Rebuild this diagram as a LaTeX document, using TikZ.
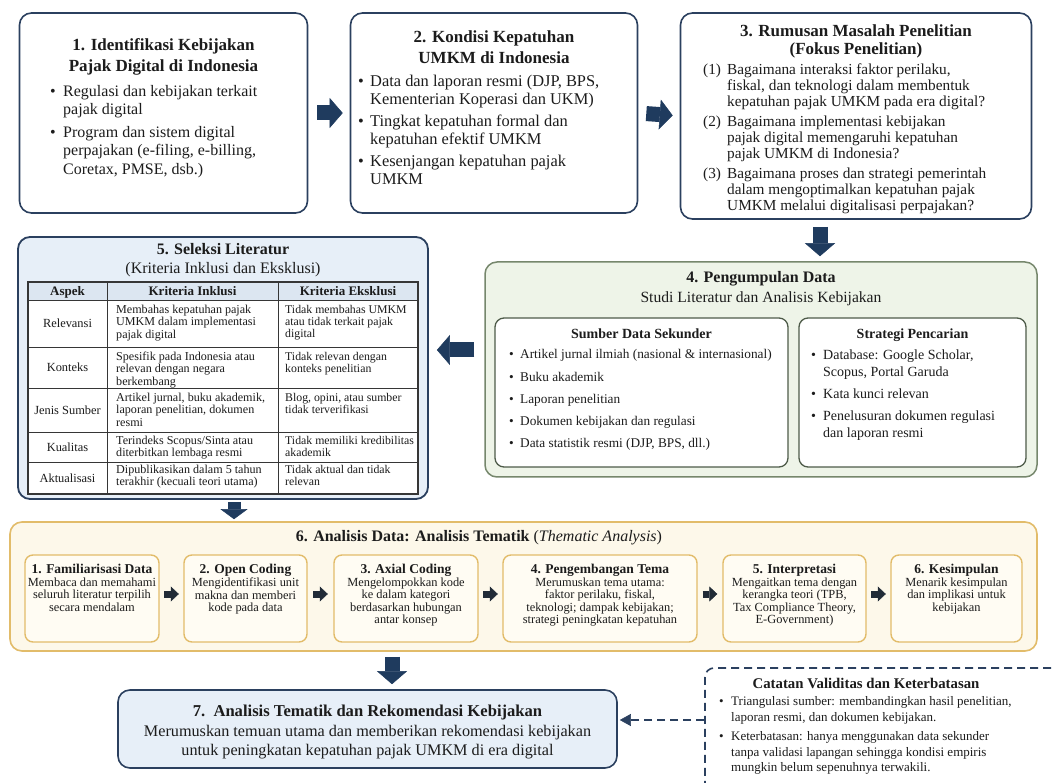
\documentclass[tikz,border=0pt]{standalone}
\usepackage{fontspec}
\setmainfont{Liberation Serif}
\usepackage{graphicx}
\usetikzlibrary{arrows.meta}

\definecolor{navy}{HTML}{2B405F}
\definecolor{arrowblue}{HTML}{1F3B5E}
\definecolor{inkdark}{HTML}{1C1C1C}
\definecolor{bluefill}{HTML}{E7EFF8}
\definecolor{greenfill}{HTML}{EEF4E8}
\definecolor{greenedge}{HTML}{76876C}
\definecolor{greenedgedark}{HTML}{4E5B49}
\definecolor{creamfill}{HTML}{FDF8EA}
\definecolor{goldedge}{HTML}{E2BC6A}
\definecolor{stepfill}{HTML}{FFFCF3}
\definecolor{tablehead}{HTML}{DCE6F1}
\definecolor{tableline}{HTML}{363636}
\definecolor{steparrow}{HTML}{212B36}

\newcommand\fsz[2]{\fontsize{#1pt}{#2pt}\selectfont}
\newlength\bw
\newcommand\itm{\makebox[\bw][l]{\textbullet}}
\newcommand\cnt{\hspace*{\bw}}
\newcommand\numitm[1]{\makebox[\bw][l]{#1}}

\begin{document}
\begin{tikzpicture}[x=1pt,y=-1pt,
  every node/.style={inner sep=0pt, text=inkdark},
  panel/.style={draw=navy, line width=1.6pt, rounded corners=12pt, fill=white},
  bluepanel/.style={panel, fill=bluefill},
  greenpanel/.style={draw=greenedge, line width=1.5pt, rounded corners=12pt, fill=greenfill},
  greencard/.style={draw=greenedgedark, line width=1.3pt, rounded corners=9pt, fill=white},
  creampanel/.style={draw=goldedge, line width=1.6pt, rounded corners=12pt, fill=creamfill},
  stepcard/.style={draw=goldedge, line width=1.4pt, rounded corners=8pt, fill=stepfill},
  notepanel/.style={draw=navy, line width=1.6pt, dash pattern=on 8pt off 5pt, rounded corners=9pt},
  bigarrow/.style={draw=arrowblue, line width=15pt, -{Triangle[length=13pt,width=30pt,line width=0.5pt]}},
  smallarrow/.style={draw=steparrow, line width=7pt, -{Triangle[length=8pt,width=15pt,line width=0.5pt]}},
  dasharrow/.style={draw=navy, line width=1.8pt, dash pattern=on 8pt off 5pt, -{Triangle[length=11pt,width=12pt,line width=0.5pt]}},
  hdrtext/.style={font=\bfseries\fsz{17}{21}, align=center, anchor=north},
  celltext/.style={font=\fsz{12.1}{12.4}, align=left, anchor=north west},
  cellnarrow/.style={celltext, font=\fsz{11.8}{12.4}},
  stepttl/.style={font=\bfseries\fsz{13.5}{14}, anchor=base},
  stepbody/.style={font=\fsz{12.4}{12.1}, align=center, anchor=north},
]
\useasboundingbox (0,0) rectangle (1053,783);
\clip (0,0) rectangle (1053,783);
\fill[white] (0,0) rectangle (1053,783);

% ---------- top row ----------
\node[panel, minimum width=288pt, minimum height=200pt] (b1) at (163.5,113) {};
\node[hdrtext] (t1) at (163.5,38) {1. Identifikasi Kebijakan\\Pajak Digital di Indonesia};
\node[font=\fsz{16}{18.5}\setlength\bw{13pt}, align=left, anchor=north west] (l1) at (50,85)
  {\itm Regulasi dan kebijakan terkait\\\cnt pajak digital\\[4pt]\itm Program dan sistem digital\\\cnt perpajakan (e-filing, e-billing,\\\cnt Coretax, PMSE, dsb.)};

\node[panel, minimum width=287pt, minimum height=200pt] (b2) at (494,113) {};
\node[hdrtext] (t2) at (494,31) {2. Kondisi Kepatuhan\\UMKM di Indonesia};
\node[font=\fsz{16.4}{18}\setlength\bw{12pt}, align=left, anchor=north west] (l2) at (358,75)
  {\itm Data dan laporan resmi (DJP, BPS,\\\cnt Kementerian Koperasi dan UKM)\\[4pt]\itm Tingkat kepatuhan formal dan\\\cnt kepatuhan efektif UMKM\\[4pt]\itm Kesenjangan kepatuhan pajak\\\cnt UMKM};

\node[panel, minimum width=351pt, minimum height=206pt] (b3) at (856,116) {};
\node[hdrtext, font=\bfseries\fsz{17}{18}] (t3) at (856,25) {3. Rumusan Masalah Penelitian\\(Fokus Penelitian)};
\node[font=\fsz{15.3}{16}\setlength\bw{24pt}, align=left, anchor=north west] (l3) at (703,63.5)
  {\numitm{(1)}Bagaimana interaksi faktor perilaku,\\\cnt fiskal, dan teknologi dalam membentuk\\\cnt kepatuhan pajak UMKM pada era digital?\\[4pt]%
   \numitm{(2)}Bagaimana implementasi kebijakan\\\cnt pajak digital memengaruhi kepatuhan\\\cnt pajak UMKM di Indonesia?\\[4pt]%
   \numitm{(3)}Bagaimana proses dan strategi pemerintah\\\cnt dalam mengoptimalkan kepatuhan pajak\\\cnt UMKM melalui digitalisasi perpajakan?};

% ---------- 4. data collection ----------
\node[greenpanel, minimum width=552pt, minimum height=215pt] (b4) at (761,369.5) {};
\node[font=\bfseries\fsz{16}{18}, anchor=base] (t4) at (761,282.5) {4. Pengumpulan Data};
\node[font=\fsz{15.6}{18}, anchor=base] (t4s) at (761,302.5) {Studi Literatur dan Analisis Kebijakan};
\node[greencard, minimum width=293pt, minimum height=149pt] (b4a) at (641.5,392.5) {};
\node[greencard, minimum width=227pt, minimum height=149pt] (b4b) at (912.5,392.5) {};
\node[font=\bfseries\fsz{14}{16}, anchor=base] (t4a) at (641.5,338.5) {Sumber Data Sekunder};
\node[font=\bfseries\fsz{14}{16}, anchor=base] (t4b) at (912.5,338.5) {Strategi Pencarian};
\node[font=\fsz{13.3}{22.2}\setlength\bw{11pt}, align=left, anchor=north west] (l4a) at (509,349.5)
  {\itm Artikel jurnal ilmiah (nasional \& internasional)\\\itm Buku akademik\\\itm Laporan penelitian\\\itm Dokumen kebijakan dan regulasi\\\itm Data statistik resmi (DJP, BPS, dll.)};
\node[font=\fsz{14}{17}\setlength\bw{12pt}, align=left, anchor=north west] (l4b) at (811,349.5)
  {\itm Database: Google Scholar,\\\cnt Scopus, Portal Garuda\\[5pt]\itm Kata kunci relevan\\[5pt]\itm Penelusuran dokumen regulasi\\\cnt dan laporan resmi};

% ---------- 5. literature selection ----------
\node[bluepanel, line width=1.8pt, minimum width=410pt, minimum height=262pt] (b5) at (223,368) {};
\node[font=\bfseries\fsz{16}{18}, anchor=base] (t5) at (223,255) {5. Seleksi Literatur};
\node[font=\fsz{16}{18}, anchor=base] (t5s) at (223,273.5) {(Kriteria Inklusi dan Eksklusi)};

\fill[tablehead] (28,282) rectangle (418,300);
\fill[white] (28,300) rectangle (418,494);
\foreach \yy in {300,347,388,432,462} \draw[tableline, line width=0.9pt] (28,\yy) -- (418,\yy);
\foreach \xx in {107,278} \draw[tableline, line width=0.9pt] (\xx,282) -- (\xx,494);
\draw[tableline, line width=1.2pt] (28,282) rectangle (418,494);

\node[font=\bfseries\fsz{13}{14}, anchor=base] (h1) at (67.5,295.5) {Aspek};
\node[font=\bfseries\fsz{13}{14}, anchor=base] (h2) at (192.5,295.5) {Kriteria Inklusi};
\node[font=\bfseries\fsz{13}{14}, anchor=base] (h3) at (348,295.5) {Kriteria Eksklusi};

\node[font=\fsz{12.4}{13}] (a1) at (67.5,323.5) {Relevansi};
\node[font=\fsz{12.4}{13}] (a2) at (67.5,367.5) {Konteks};
\node[font=\fsz{12.4}{13}] (a3) at (67.5,410) {Jenis Sumber};
\node[font=\fsz{12.4}{13}] (a4) at (67.5,447) {Kualitas};
\node[font=\fsz{12.4}{13}] (a5) at (67.5,478) {Aktualisasi};

\node[celltext] (i1) at (116,304.7) {Membahas kepatuhan pajak\\UMKM dalam implementasi\\pajak digital};
\node[celltext] (i2) at (116,351.7) {Spesifik pada Indonesia atau\\relevan dengan negara\\berkembang};
\node[celltext] (i3) at (116,392.7) {Artikel jurnal, buku akademik,\\laporan penelitian, dokumen\\resmi};
\node[celltext] (i4) at (116,435.7) {Terindeks Scopus/Sinta atau\\diterbitkan lembaga resmi};
\node[celltext] (i5) at (116,464.7) {Dipublikasikan dalam 5 tahun\\terakhir (kecuali teori utama)};

\node[cellnarrow] (e1) at (285,304.7) {Tidak membahas UMKM\\atau tidak terkait pajak\\digital};
\node[cellnarrow] (e2) at (285,351.7) {Tidak relevan dengan\\konteks penelitian};
\node[cellnarrow] (e3) at (285,392.7) {Blog, opini, atau sumber\\tidak terverifikasi};
\node[cellnarrow] (e4) at (285,435.7) {Tidak memiliki kredibilitas\\akademik};
\node[cellnarrow] (e5) at (285,464.7) {Tidak aktual dan tidak\\relevan};

% ---------- 6. thematic analysis ----------
\node[creampanel, minimum width=1027pt, minimum height=129pt] (b6) at (523.5,586.5) {};
\node[font=\fsz{16}{18}, anchor=base] (t6) at (479,541) {\textbf{6. Analisis Data: Analisis Tematik} (\textit{Thematic Analysis})};

\node[stepcard, minimum width=134pt, minimum height=87pt] (s1) at (92,598.5) {};
\node[stepcard, minimum width=123pt, minimum height=87pt] (s2) at (245.5,598.5) {};
\node[stepcard, minimum width=144pt, minimum height=87pt] (s3) at (406,598.5) {};
\node[stepcard, minimum width=194pt, minimum height=87pt] (s4) at (600,598.5) {};
\node[stepcard, minimum width=143pt, minimum height=87pt] (s5) at (794.5,598.5) {};
\node[stepcard, minimum width=131pt, minimum height=87pt] (s6) at (956.5,598.5) {};

\node[stepttl] (s1t) at (92,573.5) {1. Familiarisasi Data};
\node[stepttl] (s2t) at (245.5,573.5) {2. Open Coding};
\node[stepttl] (s3t) at (406,573.5) {3. Axial Coding};
\node[stepttl] (s4t) at (600,573.5) {4. Pengembangan Tema};
\node[stepttl] (s5t) at (794.5,573.5) {5. Interpretasi};
\node[stepttl] (s6t) at (956.5,573.5) {6. Kesimpulan};

\node[stepbody] (s1b) at (92,578) {Membaca dan memahami\\seluruh literatur terpilih\\secara mendalam};
\node[stepbody] (s2b) at (245.5,578) {Mengidentifikasi unit\\makna dan memberi\\kode pada data};
\node[stepbody] (s3b) at (406,578) {Mengelompokkan kode\\ke dalam kategori\\berdasarkan hubungan\\antar konsep};
\node[stepbody] (s4b) at (600,578) {Merumuskan tema utama:\\faktor perilaku, fiskal,\\teknologi; dampak kebijakan;\\strategi peningkatan kepatuhan};
\node[stepbody] (s5b) at (794.5,578) {Mengaitkan tema dengan\\kerangka teori (TPB,\\Tax Compliance Theory,\\E-Government)};
\node[stepbody] (s6b) at (956.5,578) {Menarik kesimpulan\\dan implikasi untuk\\kebijakan};

% ---------- 7. recommendations ----------
\node[bluepanel, minimum width=499pt, minimum height=78pt] (b7) at (367.5,729) {};
\node[font=\bfseries\fsz{16.6}{18}, anchor=base] (t7) at (367.5,716.5) {7.\ \ Analisis Tematik dan Rekomendasi Kebijakan};
\node[font=\fsz{16.2}{19}, align=center, anchor=north] (t7b) at (367.5,725) {Merumuskan temuan utama dan memberikan rekomendasi kebijakan\\untuk peningkatan kepatuhan pajak UMKM di era digital};

% ---------- validity note ----------
\node[notepanel, minimum width=420pt, minimum height=160pt] (note) at (915,748) {};
\node[font=\bfseries\fsz{14.8}{17}, anchor=base] (tn) at (866,688) {Catatan Validitas dan Keterbatasan};
\node[font=\fsz{13}{15.8}\setlength\bw{12pt}, align=left, anchor=north west] (ln) at (719,696.5)
  {\itm Triangulasi sumber: membandingkan hasil penelitian,\\\cnt laporan resmi, dan dokumen kebijakan.\\[3pt]\itm Keterbatasan: hanya menggunakan data sekunder\\\cnt tanpa validasi lapangan sehingga kondisi empiris\\\cnt mungkin belum sepenuhnya terwakili.};

% ---------- connectors ----------
\coordinate (x34) at (820,0);
\coordinate (y45) at (0,350);
\coordinate (x56) at (234,0);
\coordinate (x67) at (392,0);
\coordinate (ystep) at (0,594);
\coordinate (ynote) at (0,720);

\draw[bigarrow, shorten <=9pt, shorten >=7pt] (b1.east) -- (b2.west);
\draw[bigarrow, shorten <=8pt, shorten >=7pt] (b2.east) -- (b3.west);
\draw[bigarrow, shorten <=7pt, shorten >=5pt] (b3.south -| x34) -- (b4.north -| x34);
\draw[bigarrow, shorten <=10pt, shorten >=8pt] (b4.west |- y45) -- (b5.east |- y45);
\draw[bigarrow, -{Triangle[length=10pt,width=27pt,line width=0.5pt]}, line width=13pt, shorten <=2pt, shorten >=2pt] (b5.south -| x56) -- (b6.north -| x56);
\draw[bigarrow, shorten <=5pt, shorten >=5pt] (b6.south -| x67) -- (b7.north -| x67);

\draw[smallarrow, shorten <=4.5pt, shorten >=4.5pt] (s1.east |- ystep) -- (s2.west |- ystep);
\draw[smallarrow, shorten <=5.5pt, shorten >=5.5pt] (s2.east |- ystep) -- (s3.west |- ystep);
\draw[smallarrow, shorten <=4.5pt, shorten >=4.5pt] (s3.east |- ystep) -- (s4.west |- ystep);
\draw[smallarrow, shorten <=5pt, shorten >=5pt] (s4.east |- ystep) -- (s5.west |- ystep);
\draw[smallarrow, shorten <=4.5pt, shorten >=4.5pt] (s5.east |- ystep) -- (s6.west |- ystep);

\draw[dasharrow, shorten >=2pt] (note.west |- ynote) -- (b7.east |- ynote);
\end{tikzpicture}
\end{document}
